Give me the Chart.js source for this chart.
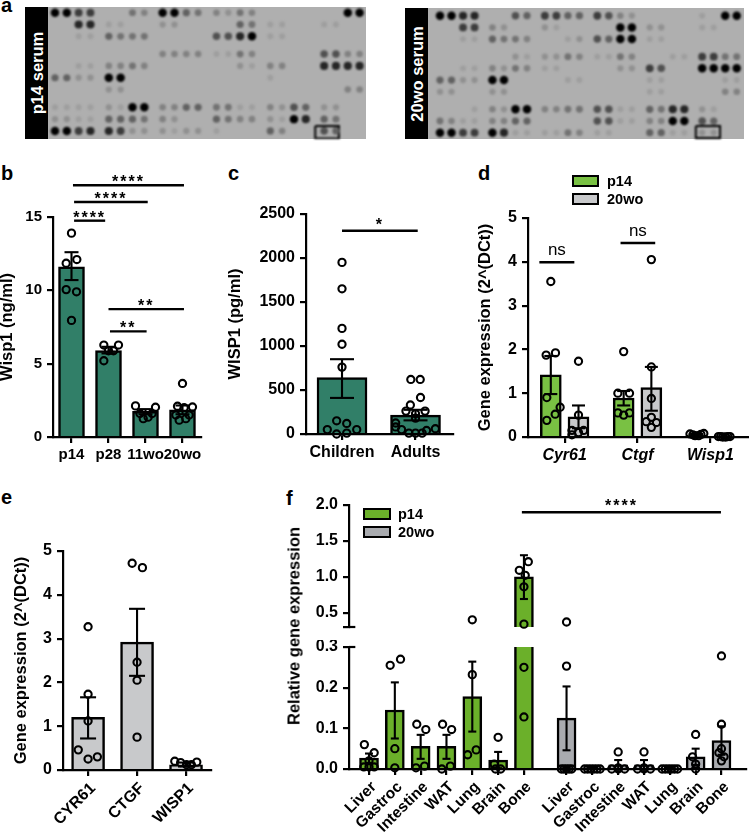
<!DOCTYPE html>
<html>
<head>
<meta charset="utf-8">
<title>Wisp1 panels</title>
<script src="https://cdn.jsdelivr.net/npm/chart.js@4"></script>
<style>
    html, body { margin: 0; padding: 0; background: #fff; }
    #page { position: relative; width: 749px; height: 839px; overflow: hidden; font-family: "Liberation Sans", Arial, sans-serif; color: #000; }
    #page canvas { position: absolute; }
    .letter { position: absolute; font-weight: bold; font-size: 20px; line-height: 20px; }
    .blot { position: absolute; background: #afafaf; }
    .band { position: absolute; background: #000; }
    .band span { position: absolute; left: 50%; top: 50%; transform: translate(-50%, -50%) rotate(-90deg); white-space: nowrap; color: #fff; font-size: 16.5px; font-weight: bold; }
    .legend-box { position: absolute; box-sizing: border-box; border: 2.5px solid #000; }
    .legend-text { position: absolute; font-size: 14.5px; line-height: 16px; font-weight: bold; }
    .side-title { position: absolute; transform: translate(-50%, -50%) rotate(-90deg); white-space: nowrap; font-size: 16.5px; font-weight: bold; }
</style>
</head>
<body>
<div id="page"></div>
<script>
// Panel a: spot intensity per array row, 0 = no spot, 9 = black
const blotP14 = [
    '997700439954324300000099',
    '008811002200005411001100',
    '001154440000668911000000',
    '000000003333114300006633',
    '001133430000002133008888',
    '552299000000000010000000',
    '000022000000000000000033',
    '111121993355441132652200',
    '221155543200543321985400',
    '997887222122100053006500'
];
const blot20wo = [
    '998800657755763200001099',
    '007732002100009922001100',
    '001154430012659911000000',
    '000000212243114300117744',
    '001132431100002276009999',
    '552299000011000011000011',
    '220022000000000011000033',
    '000132993344661154882100',
    '431133550000661133996500',
    '997798111143110055112200'
];
const boxP14X = [22, 24, 24, 22, 22];
const boxP14Y = [9.58, 9.58, 10.64, 10.64, 9.58];
const box20woX = [22.2, 24.3, 24.3, 22.2, 22.2];
const box20woY = [9.43, 9.43, 10.45, 10.45, 9.43];

// Panel b
const groupsB = ['p14', 'p28', '11wo', '20wo'];
const ticksB = ['0', '5', '10', '15'];
const barsB = [11.6, 5.9, 1.75, 1.85];
const errHiB = [12.6, 6.15, 1.9, 2.15];
const errLoB = [10.7, 5.7, 1.55, 1.55];
const valuesB = [
    [13.9, 12.1, 11.85, 10.05, 9.9, 7.95],
    [6.27, 6.27, 5.88, 5.88, 5.2],
    [2.12, 2.03, 1.25, 1.35, 1.6, 1.6],
    [3.65, 2.1, 2.05, 2.0, 1.15, 1.25, 1.5, 1.5]
];
const jitterB = [
    [0, 0.144, -0.144, -0.144, 0.135, 0],
    [-0.126, 0.27, 0.135, 0, -0.126],
    [-0.27, 0.27, -0.06, 0.07, 0.18, -0.15],
    [0, -0.135, 0.27, 0.045, -0.09, 0.09, -0.18, 0.18]
];
const sigB = [
    [0.04, 3.04, 17.16, '****'],
    [0.07, 2.06, 16.02, '****'],
    [0.07, 0.91, 14.75, '****'],
    [1.0, 3.04, 8.72, '**'],
    [1.04, 2.03, 7.2, '**']
];

// Panel c
const groupsC = ['Children', 'Adults'];
const ticksC = ['0', '500', '1000', '1500', '2000', '2500'];
const barsC = [640, 215];
const errHiC = [850, 275];
const errLoC = [410, 155];
const valuesC = [
    [1950, 1650, 1200, 1020, 760, 150, 120, 50, 50, 0, 10],
    [620, 620, 415, 330, 260, 260, 230, 180, 125, 80, 60, 50, 40, 10, 10, 10]
];
const jitterC = [
    [0, 0, 0, 0, 0, -0.073, 0.064, -0.2, 0.2, -0.073, 0.064],
    [-0.064, 0.064, 0.068, -0.07, -0.13, 0.13, 0, 0, -0.27, -0.27, 0.27, -0.19, 0.15, -0.09, 0, 0.09]
];
const sigC = [[0, 1.03, 2310, '*']];

// Panel d
const groupsD = ['Cyr61', 'Ctgf', 'Wisp1'];
const ticksD = ['0', '1', '2', '3', '4', '5'];
const barsD14 = [1.42, 0.89, 0.04];
const barsD20 = [0.46, 1.13, 0.01];
const errHiD14 = [1.85, 1.05, 0.07];
const errLoD14 = [0.98, 0.72, 0.02];
const errHiD20 = [0.72, 1.6, 0.01];
const errLoD20 = [0.2, 0.6, 0.0];
const valuesD14 = [
    [3.55, 1.87, 1.92, 0.9, 0.68, 0.52, 0.38],
    [1.95, 1.0, 1.0, 0.55, 0.5, 0.55],
    [0.07, 0.05, 0.03, 0.03, 0.06, 0.08]
];
const jitterD14 = [
    [0, -0.064, 0.064, -0.055, 0.128, 0.06, -0.055],
    [0, -0.08, 0.08, -0.08, 0, 0.08],
    [-0.09, -0.05, -0.02, 0.03, 0.06, 0.1]
];
const valuesD20 = [
    [1.73, 0.5, 0.15, 0.15, 0.1, 0.05],
    [4.05, 1.6, 0.88, 0.45, 0.35, 0.33, 0.22],
    [0.01, 0.01, 0.0, 0.0, 0.01, 0.01]
];
const jitterD20 = [
    [0, 0, -0.09, 0.07, 0, -0.09],
    [0, 0, 0, 0, -0.07, 0.07, 0],
    [-0.08, -0.05, -0.02, 0.02, 0.05, 0.08]
];
const sigD = [
    [-0.347, 0.133, 3.99, 'ns'],
    [0.767, 1.243, 4.43, 'ns']
];

// Panel e
const groupsE = ['CYR61', 'CTGF', 'WISP1'];
const ticksE = ['0', '1', '2', '3', '4', '5'];
const barsE = [1.2, 2.92, 0.12];
const errHiE = [1.66, 3.68, 0.17];
const errLoE = [0.72, 2.15, 0.08];
const valuesE = [
    [3.27, 1.73, 1.12, 0.46, 0.3, 0.25],
    [4.72, 4.62, 2.46, 2.05, 0.75],
    [0.2, 0.17, 0.12, 0.12, 0.18]
];
const jitterE = [
    [0, 0, 0, -0.2, 0.19, 0],
    [-0.1, 0.11, 0, 0, 0],
    [-0.23, -0.11, 0.01, 0.11, 0.22]
];

// Panel f
const tissuesF = ['Liver', 'Gastroc', 'Intestine', 'WAT', 'Lung', 'Brain', 'Bone', 'Liver', 'Gastroc', 'Intestine', 'WAT', 'Lung', 'Brain', 'Bone'];
const tissuePosF = [0, 1, 2, 3, 4, 5, 6, 7.65, 8.65, 9.65, 10.65, 11.65, 12.65, 13.65];
const ticksFLow = ['0.0', '0.1', '0.2', '0.3'];
const ticksFHigh = ['', '0.5', '1.0', '1.5', '2.0'];
const ticksFHighVal = [0.3, 0.5, 1.0, 1.5, 2.0];
const barsF = [0.027, 0.145, 0.056, 0.056, 0.178, 0.022, 1.0, 0.125, 0.003, 0.01, 0.01, 0.002, 0.03, 0.07];
const errHiF = [0.038, 0.213, 0.084, 0.084, 0.264, 0.042, 1.3, 0.203, 0.005, 0.022, 0.022, 0.004, 0.05, 0.105];
const errLoF = [0.015, 0.075, 0.025, 0.025, 0.092, 0.002, 0.69, 0.046, 0.0, 0.0, 0.0, 0.0, 0.01, 0.035];
const valuesF = [
    [0.06, 0.04, 0.02, 0.005, 0.005, 0.005],
    [0.27, 0.255, 0.05, 0.003],
    [0.11, 0.097, 0.003, 0.007],
    [0.11, 0.097, 0.0, 0.007],
    [0.4, 0.232, 0.035, 0.047],
    [0.078, 0.012, 0.0, 0.0],
    [1.21, 1.09, 1.02, 0.86, 0.34, 0.25, 0.128],
    [0.37, 0.253, 0.0, 0.0, 0.0, 0.0, 0.0],
    [0.0, 0.0, 0.0, 0.0, 0.0, 0.0],
    [0.042, 0.003, 0.0, 0.0, 0.0],
    [0.042, 0.003, 0.0, 0.0, 0.0],
    [0.0, 0.0, 0.0, 0.0, 0.0, 0.0],
    [0.085, 0.03, 0.012, 0.0],
    [0.278, 0.11, 0.05, 0.04, 0.03, 0.02]
];
const jitterF = [
    [-0.18, 0.2, 0, -0.2, 0, 0.2],
    [0.22, -0.18, 0, 0],
    [-0.15, 0.2, -0.18, 0.15],
    [-0.15, 0.2, -0.18, 0.15],
    [0, 0, -0.18, 0.15],
    [0, -0.15, -0.1, 0.1],
    [0.17, -0.18, 0.05, 0, 0, 0, 0],
    [0, 0, -0.2, -0.1, 0, 0.1, 0.2],
    [-0.3, -0.18, -0.06, 0.06, 0.18, 0.3],
    [0, 0, -0.25, 0, 0.25],
    [0, 0, -0.25, 0, 0.25],
    [-0.3, -0.18, -0.06, 0.06, 0.18, 0.3],
    [0, -0.12, 0, 0],
    [0, 0, 0, -0.1, 0.1, 0]
];
const sigF = [[5.92, 13.63, 1.9, '****']];
const breakF = [0.3, 0.3];

const TEAL = '#317f68';
const GREEN_D = '#79c143';
const GRAY_D = '#c8c9cb';
const GREEN_F = '#6bb02a';
const GRAY_F = '#a9abaf';
const FONT = '"Liberation Sans", Arial, sans-serif';

const page = document.getElementById('page');

Chart.defaults.font.family = FONT;
Chart.defaults.color = '#000';

function addCanvas(box) {
    const canvas = document.createElement('canvas');
    canvas.width = box.right - box.left;
    canvas.height = box.bottom - box.top;
    canvas.style.left = box.left + 'px';
    canvas.style.top = box.top + 'px';
    page.appendChild(canvas);
    return canvas;
}

function addDiv(className, left, top, width, height, text) {
    const div = document.createElement('div');
    div.className = className;
    div.style.left = left + 'px';
    div.style.top = top + 'px';
    if (width) div.style.width = width + 'px';
    if (height) div.style.height = height + 'px';
    if (text) div.textContent = text;
    page.appendChild(div);
    return div;
}

// Text of the significance lines, placed through the chart's scales
const sigTextPlugin = {
    id: 'sigText',
    afterDatasetsDraw(chart, args, opts) {
        const ctx = chart.ctx;
        (opts.items || []).forEach(item => {
            const isStars = item[3].indexOf('*') !== -1;
            ctx.save();
            ctx.fillStyle = '#000';
            ctx.textAlign = 'center';
            ctx.textBaseline = 'alphabetic';
            ctx.font = (isStars ? 'bold 16px ' : '17px ') + FONT;
            if (isStars) ctx.letterSpacing = '2px';
            const x = chart.scales.x.getPixelForValue((item[0] + item[1]) / 2);
            const y = chart.scales.y.getPixelForValue(item[2]);
            ctx.fillText(item[3], x, y + (isStars ? opts.starShift : opts.textShift));
            ctx.restore();
        });
    }
};

function barDataset(xs, values, color, thickness) {
    return {
        type: 'bar',
        order: 3,
        data: xs.map((x, i) => ({ x: x, y: values[i] })),
        backgroundColor: color,
        borderColor: '#000',
        borderWidth: 2.5,
        barThickness: thickness,
        grouped: false
    };
}

function pointDataset(xs, values, jitter) {
    const pts = [];
    xs.forEach((x, i) => {
        values[i].forEach((v, k) => pts.push({ x: x + jitter[i][k], y: v }));
    });
    return {
        type: 'scatter',
        order: 1,
        data: pts,
        clip: false,
        pointRadius: 3.6,
        pointBorderWidth: 2.1,
        pointBackgroundColor: 'rgba(0,0,0,0)',
        pointBorderColor: '#000'
    };
}

function errorDatasets(xs, hi, lo, capSize) {
    return xs.map((x, i) => ({
        type: 'scatter',
        order: 2,
        showLine: true,
        clip: false,
        data: [{ x: x, y: hi[i] }, { x: x, y: lo[i] }],
        borderColor: '#000',
        borderWidth: 2.1,
        pointStyle: 'line',
        pointRadius: capSize,
        pointBorderWidth: 2.1,
        pointBorderColor: '#000'
    }));
}

function lineDataset(x0, x1, y0, y1, width) {
    return {
        type: 'scatter',
        order: 2,
        showLine: true,
        clip: false,
        data: [{ x: x0, y: y0 }, { x: x1, y: y1 }],
        borderColor: '#000',
        borderWidth: width,
        pointRadius: 0
    };
}

function makePanel(cfg) {
    const box = cfg.box, plot = cfg.plot;
    const hasX = cfg.xLabels && cfg.xLabels.length > 0;
    const sig = cfg.sig || [];
    const datasets = cfg.datasets.concat(sig.map(s => lineDataset(s[0], s[1], s[2], s[2], 2.4)));

    return new Chart(addCanvas(box), {
        type: 'bar',
        data: { datasets: datasets },
        plugins: [sigTextPlugin],
        options: {
            responsive: false,
            animation: false,
            layout: {
                autoPadding: false,
                padding: {
                    top: plot.top - box.top,
                    right: box.right - plot.right,
                    bottom: hasX ? 0 : box.bottom - plot.bottom,
                    left: 0
                }
            },
            plugins: {
                legend: { display: false },
                tooltip: { enabled: false },
                sigText: { items: sig, starShift: cfg.starShift || 0, textShift: cfg.textShift || 0 }
            },
            scales: {
                x: {
                    type: 'linear',
                    display: hasX,
                    offset: false,
                    min: cfg.xRange[0],
                    max: cfg.xRange[1],
                    afterBuildTicks(axis) {
                        axis.ticks = cfg.xPos.map(v => ({ value: v }));
                    },
                    afterFit(axis) {
                        axis.height = hasX ? box.bottom - plot.bottom : 0;
                        axis.paddingLeft = axis.paddingRight = axis.paddingTop = axis.paddingBottom = 0;
                    },
                    border: { color: '#000', width: 2.2 },
                    grid: { offset: false, drawOnChartArea: false, color: '#000', lineWidth: 2.2, tickLength: 6 },
                    ticks: {
                        autoSkip: false,
                        color: '#000',
                        minRotation: cfg.rotation || 0,
                        maxRotation: cfg.rotation || 0,
                        padding: cfg.xPadding || 3,
                        labelOffset: cfg.labelOffset || 0,
                        font: cfg.xFont,
                        callback: (v, i) => cfg.xLabels[i]
                    }
                },
                y: {
                    type: 'linear',
                    min: cfg.yRange[0],
                    max: cfg.yRange[1],
                    afterBuildTicks(axis) {
                        axis.ticks = cfg.yVals.map(v => ({ value: v }));
                    },
                    afterFit(axis) {
                        axis.width = plot.left - box.left;
                        axis.paddingLeft = axis.paddingRight = axis.paddingTop = axis.paddingBottom = 0;
                    },
                    border: { color: '#000', width: 2.2 },
                    grid: { drawOnChartArea: false, color: '#000', lineWidth: 2.2, tickLength: 6 },
                    ticks: {
                        autoSkip: false,
                        color: '#000',
                        padding: 5,
                        font: { size: cfg.yFontSize || 16, weight: 'bold' },
                        callback: (v, i) => cfg.yLabels[i]
                    },
                    title: {
                        display: !!cfg.yTitle,
                        text: cfg.yTitle,
                        color: '#000',
                        padding: 0,
                        font: { size: 16.5, weight: 'bold' }
                    }
                }
            }
        }
    });
}

// Array image of panel a, drawn as a scatter chart of spots
function makeBlot(rows, boxX, boxY, rect, xRange, yRange) {
    const layers = [];
    rows.forEach((row, r) => {
        const rowPos = r + (r >= 3 ? 0.5 : 0) + (r >= 7 ? 0.5 : 0);
        row.split('').forEach((c, col) => {
            const level = Number(c);
            if (level === 0) return;
            const colPos = col + Math.floor(col / 4) * 0.55;
            const shade = Math.round(172 * Math.pow(1 - level / 9, 0.7));
            layers.push({
                x: colPos,
                y: rowPos,
                color: 'rgb(' + shade + ',' + shade + ',' + shade + ')',
                radius: 2.8 + level * 0.16
            });
        });
    });

    const canvas = addCanvas(rect);
    canvas.style.filter = 'blur(0.9px)';
    new Chart(canvas, {
        type: 'scatter',
        data: {
            datasets: [
                {
                    data: layers.map(p => ({ x: p.x, y: p.y })),
                    pointRadius: layers.map(p => p.radius),
                    pointBackgroundColor: layers.map(p => p.color),
                    pointBorderWidth: 0,
                    clip: false
                },
                {
                    showLine: true,
                    clip: false,
                    data: boxX.map((x, i) => ({ x: x, y: boxY[i] })),
                    borderColor: '#000',
                    borderWidth: 2,
                    pointRadius: 0
                }
            ]
        },
        options: {
            responsive: false,
            animation: false,
            layout: { autoPadding: false, padding: 0 },
            plugins: { legend: { display: false }, tooltip: { enabled: false } },
            scales: {
                x: { display: false, min: xRange[0], max: xRange[1] },
                y: { display: false, min: yRange[0], max: yRange[1], reverse: true }
            }
        }
    });
}

function addBlotFrame(left, top, right, bottom, bandRight, label) {
    addDiv('blot', left, top, right - left, bottom - top);
    const band = addDiv('band', left, top, bandRight - left, bottom - top);
    const span = document.createElement('span');
    span.textContent = label;
    band.appendChild(span);
}

function addLegend(x, textX, y1, y2, w, h, color1, color2) {
    addDiv('legend-box', x, y1, w, h).style.background = color1;
    addDiv('legend-box', x, y2, w, h).style.background = color2;
    addDiv('legend-text', textX, y1 - 2, 0, 0, 'p14').style.whiteSpace = 'nowrap';
    addDiv('legend-text', textX, y2 - 2, 0, 0, '20wo').style.whiteSpace = 'nowrap';
}

// Panel letters
addDiv('letter', 1, -5, 0, 0, 'a');
addDiv('letter', 1, 163, 0, 0, 'b');
addDiv('letter', 228, 163, 0, 0, 'c');
addDiv('letter', 478, 163, 0, 0, 'd');
addDiv('letter', 1, 487, 0, 0, 'e');
addDiv('letter', 286, 488, 0, 0, 'f');

// a
addBlotFrame(25, 7, 366, 139, 48, 'p14 serum');
makeBlot(blotP14, boxP14X, boxP14Y, { left: 48, top: 7, right: 366, bottom: 139 }, [-0.59, 26.29], [-0.48, 10.68]);
addBlotFrame(405, 8, 744, 139, 428, '20wo serum');
makeBlot(blot20wo, box20woX, box20woY, { left: 428, top: 8, right: 744, bottom: 139 }, [-1.04, 26.38], [-0.66, 10.54]);

// b
const xPosB = [0, 1, 2, 3];
makePanel({
    box: { left: -2, top: 165, right: 215, bottom: 480 },
    plot: { left: 53, top: 217, right: 201, bottom: 437 },
    xRange: [-0.5, 3.5], yRange: [0, 15],
    xPos: xPosB, xLabels: groupsB, xFont: { size: 15, weight: 'bold' },
    yVals: ticksB.map(Number), yLabels: ticksB, yFontSize: 15,
    yTitle: 'Wisp1 (ng/ml)',
    starShift: 2,
    sig: sigB,
    datasets: [
        barDataset(xPosB, barsB, TEAL, 26),
        pointDataset(xPosB, valuesB, jitterB)
    ].concat(errorDatasets(xPosB, errHiB, errLoB, 7))
});

// c
const xPosC = [0, 1];
makePanel({
    box: { left: 226, top: 190, right: 462, bottom: 480 },
    plot: { left: 306, top: 214, right: 453, bottom: 434 },
    xRange: [-0.49, 1.51], yRange: [0, 2500],
    xPos: xPosC, xLabels: groupsC, xFont: { size: 16, weight: 'bold' },
    yVals: ticksC.map(Number), yLabels: ticksC,
    yTitle: 'WISP1 (pg/ml)',
    starShift: -1,
    sig: sigC,
    datasets: [
        barDataset(xPosC, barsC, TEAL, 50),
        pointDataset(xPosC, valuesC, jitterC)
    ].concat(errorDatasets(xPosC, errHiC, errLoC, 12))
});

// d
const xPosD = [0, 1, 2];
const xD14 = xPosD.map(x => x - 0.19);
const xD20 = xPosD.map(x => x + 0.19);
makePanel({
    box: { left: 476, top: 205, right: 749, bottom: 480 },
    plot: { left: 528, top: 218, right: 749, bottom: 437 },
    xRange: [-0.503, 2.53], yRange: [0, 5],
    xPos: xPosD, xLabels: groupsD, xFont: { size: 16, weight: 'bold', style: 'italic' },
    yVals: ticksD.map(Number), yLabels: ticksD,
    yTitle: 'Gene expression (2^(DCt))',
    textShift: -7,
    sig: sigD,
    datasets: [
        barDataset(xD14, barsD14, GREEN_D, 21),
        barDataset(xD20, barsD20, GRAY_D, 21),
        pointDataset(xD14, valuesD14, jitterD14),
        pointDataset(xD20, valuesD20, jitterD20)
    ].concat(errorDatasets(xD14, errHiD14, errLoD14, 6.5), errorDatasets(xD20, errHiD20, errLoD20, 6.5))
});
addLegend(572, 607, 175, 193, 27, 12, GREEN_D, GRAY_D);

// e
const xPosE = [0, 1, 2];
makePanel({
    box: { left: 12, top: 540, right: 225, bottom: 839 },
    plot: { left: 63, top: 551, right: 211, bottom: 770 },
    xRange: [-0.512, 2.51], yRange: [0, 5],
    xPos: xPosE, xLabels: groupsE, xFont: { size: 16, weight: 'bold' },
    yVals: ticksE.map(Number), yLabels: ticksE,
    yTitle: 'Gene expression (2^(DCt))',
    rotation: 45, labelOffset: 5,
    datasets: [
        barDataset(xPosE, barsE, GRAY_D, 33),
        pointDataset(xPosE, valuesE, jitterE)
    ].concat(errorDatasets(xPosE, errHiE, errLoE, 8))
});

// f: broken axis, one chart below the break and one above it
const colorsF = tissuesF.map((t, i) => i < 7 ? GREEN_F : GRAY_F);
const keepF = (test) => valuesF.map(list => list.filter(test));
const jitterKeepF = (test) => jitterF.map((list, i) => list.filter((j, k) => test(valuesF[i][k])));
const isLow = v => v < 0.3;
const isHigh = v => v >= 0.3;
const errIdxLow = tissuePosF.filter((x, i) => errHiF[i] < 0.3);
const errIdxHigh = tissuePosF.filter((x, i) => errHiF[i] >= 0.3);
const pickErr = (list, test) => list.filter((v, i) => test(errHiF[i]));
const FX_RANGE = [-0.775, 14.6];

makePanel({
    box: { left: 286, top: 640, right: 749, bottom: 839 },
    plot: { left: 349, top: 647, right: 746, bottom: 769 },
    xRange: FX_RANGE, yRange: [0, 0.3],
    xPos: tissuePosF, xLabels: tissuesF, xFont: { size: 15.5, weight: 'bold' },
    yVals: ticksFLow.map(Number), yLabels: ticksFLow,
    rotation: 45, labelOffset: 5,
    datasets: [
        barDataset(tissuePosF, barsF, colorsF, 19),
        pointDataset(tissuePosF, keepF(isLow), jitterKeepF(isLow)),
        lineDataset(-0.775, -0.53, breakF[0], breakF[1], 2.2)
    ].concat(errorDatasets(errIdxLow, pickErr(errHiF, isLow), pickErr(errLoF, isLow), 4))
});

makePanel({
    box: { left: 286, top: 495, right: 749, bottom: 635 },
    plot: { left: 349, top: 505, right: 746, bottom: 627 },
    xRange: FX_RANGE, yRange: [0.3, 2.0],
    xPos: tissuePosF, xLabels: [],
    yVals: ticksFHighVal, yLabels: ticksFHigh,
    starShift: -1,
    sig: sigF,
    datasets: [
        barDataset(tissuePosF, barsF, colorsF, 19),
        pointDataset(tissuePosF, keepF(isHigh), jitterKeepF(isHigh)),
        lineDataset(-0.775, -0.53, breakF[0], breakF[1], 2.2)
    ].concat(errorDatasets(errIdxHigh, pickErr(errHiF, isHigh), pickErr(errLoF, isHigh), 4))
});
addLegend(363, 398, 508, 526, 28, 12, GREEN_F, GRAY_F);
addDiv('side-title', 294, 626, 0, 0, 'Relative gene expression').style.width = 'auto';
</script>
</body>
</html>
